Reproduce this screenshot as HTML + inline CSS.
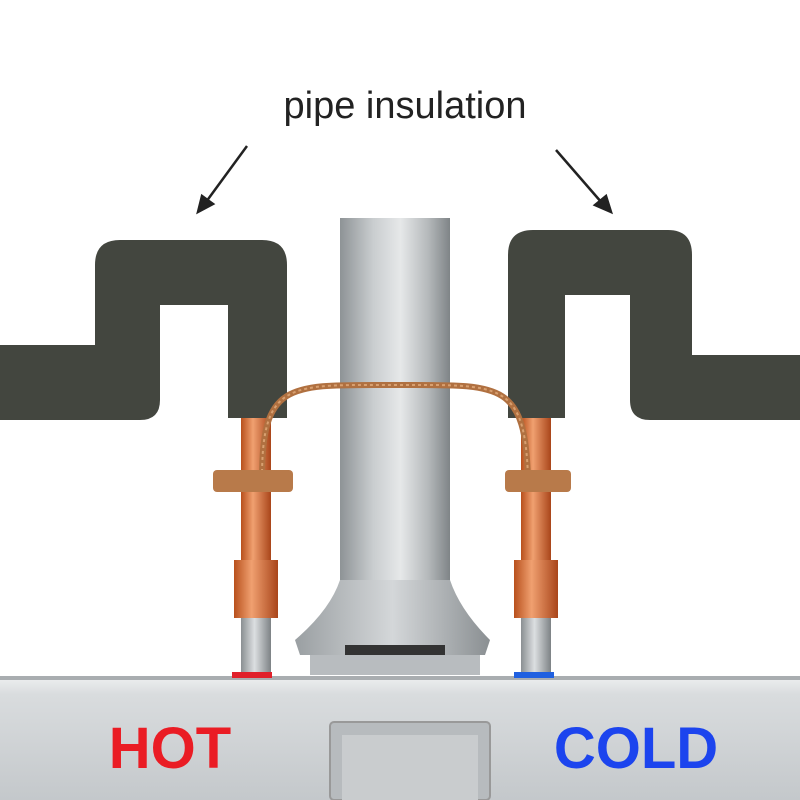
<!DOCTYPE html>
<html><head><meta charset="utf-8"><style>
html,body{margin:0;padding:0;background:#fff;width:800px;height:800px;overflow:hidden}
</style></head><body>
<svg width="800" height="800" viewBox="0 0 800 800" xmlns="http://www.w3.org/2000/svg">
<defs>
<linearGradient id="flue" x1="0" x2="1">
<stop offset="0" stop-color="#8e9396"/><stop offset="0.3" stop-color="#c9cdcf"/><stop offset="0.55" stop-color="#e6e8e9"/><stop offset="0.8" stop-color="#b5b9bb"/><stop offset="1" stop-color="#7f8487"/>
</linearGradient>
<linearGradient id="hood" x1="0" x2="1">
<stop offset="0" stop-color="#9a9fa2"/><stop offset="0.5" stop-color="#d4d7d9"/><stop offset="1" stop-color="#8a8f92"/>
</linearGradient>
<linearGradient id="tank" x1="0" y1="0" x2="0" y2="1">
<stop offset="0" stop-color="#eef0f1"/><stop offset="0.15" stop-color="#d9dcde"/><stop offset="1" stop-color="#c4c8cb"/>
</linearGradient>
<linearGradient id="cu" x1="0" x2="1">
<stop offset="0" stop-color="#b8501c"/><stop offset="0.4" stop-color="#f0a070"/><stop offset="1" stop-color="#a9451a"/>
</linearGradient>
<linearGradient id="gp" x1="0" x2="1">
<stop offset="0" stop-color="#8a8f92"/><stop offset="0.45" stop-color="#dcdfe1"/><stop offset="1" stop-color="#7d8285"/>
</linearGradient>
</defs>
<text x="405" y="118" text-anchor="middle" font-family="Liberation Sans, sans-serif" font-size="38" fill="#222">pipe insulation</text>
<g stroke="#222" stroke-width="2.5" fill="#222">
<line x1="247" y1="146" x2="206" y2="202"/><polygon points="198,212 202,196 213,204"/>
<line x1="556" y1="150" x2="602" y2="203"/><polygon points="611,212 595,205 606,196"/>
</g>
<rect x="340" y="218" width="110" height="365" fill="url(#flue)"/>
<path d="M340 580 H450 Q460 610 490 640 L485 655 H300 L295 640 Q330 610 340 580 Z" fill="url(#hood)"/>
<rect x="345" y="645" width="100" height="30" fill="#333"/>
<rect x="310" y="655" width="170" height="20" fill="#b8bcbf"/>
<g fill="#43463f">
<path d="M0 345 H95 V265 Q95 240 120 240 H262 Q287 240 287 265 V418 H228 V305 H160 V400 Q160 420 140 420 H0 Z"/>
<path d="M508 418 V255 Q508 230 533 230 H668 Q692 230 692 255 V355 H800 V420 H650 Q630 420 630 400 V295 H565 V418 Z"/>
</g>
<rect x="241" y="418" width="30" height="145" fill="url(#cu)"/>
<rect x="521" y="418" width="30" height="145" fill="url(#cu)"/>
<rect x="234" y="560" width="44" height="58" fill="url(#cu)"/>
<rect x="514" y="560" width="44" height="58" fill="url(#cu)"/>
<rect x="241" y="618" width="30" height="60" fill="url(#gp)"/>
<rect x="521" y="618" width="30" height="60" fill="url(#gp)"/>
<path d="M262 478 C262 380 290 385 395 385 C500 385 525 380 528 478" fill="none" stroke="#b07040" stroke-width="6"/>
<path d="M262 478 C262 380 290 385 395 385 C500 385 525 380 528 478" fill="none" stroke="#d8a070" stroke-width="2" stroke-dasharray="3 3"/>
<rect x="213" y="470" width="80" height="22" rx="4" fill="#b87a4a"/>
<rect x="505" y="470" width="66" height="22" rx="4" fill="#b87a4a"/>
<rect x="0" y="676" width="800" height="124" fill="url(#tank)"/>
<rect x="0" y="676" width="800" height="4" fill="#a9adb0"/>
<rect x="232" y="672" width="40" height="6" fill="#e0202a"/>
<rect x="514" y="672" width="40" height="6" fill="#2060e0"/>
<rect x="330" y="722" width="160" height="78" rx="4" fill="#b7bbbe" stroke="#999" stroke-width="2"/>
<rect x="342" y="735" width="136" height="65" fill="#c9ccce"/>
<text x="170" y="768" text-anchor="middle" font-family="Liberation Sans, sans-serif" font-weight="bold" font-size="58" fill="#ea1c24">HOT</text>
<text x="636" y="768" text-anchor="middle" font-family="Liberation Sans, sans-serif" font-weight="bold" font-size="58" fill="#1c44ee">COLD</text>
</svg>
</body></html>
